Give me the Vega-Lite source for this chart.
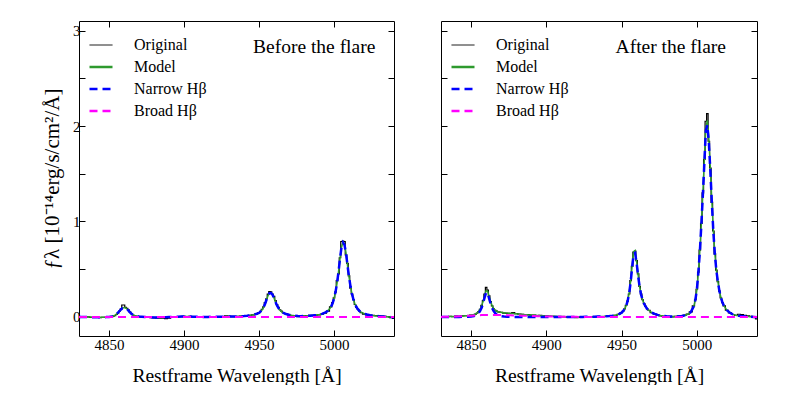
{
  "$schema": "https://vega.github.io/schema/vega-lite/v6.json",
  "background": "white",
  "padding": {"left": 41, "top": 20, "right": 0, "bottom": 0},
  "spacing": 35,
  "datasets": {
    "before": [
      {"w":4830,"o":0,"m":0,"n":0,"b":0},{"w":4832,"o":-0.003,"m":0,"n":0,"b":0},{"w":4834,"o":0.002,"m":0,"n":0,"b":0},{"w":4836,"o":0,"m":0,"n":0,"b":0},{"w":4838,"o":-0.004,"m":-0.002,"n":-0.002,"b":0},{"w":4840,"o":-0.006,"m":-0.003,"n":-0.003,"b":0},{"w":4842,"o":-0.005,"m":-0.003,"n":-0.003,"b":0},{"w":4844,"o":-0.007,"m":-0.003,"n":-0.003,"b":0},{"w":4846,"o":-0.004,"m":-0.003,"n":-0.003,"b":0},{"w":4848,"o":-0.006,"m":-0.002,"n":-0.002,"b":0},{"w":4850,"o":-0.003,"m":0,"n":0,"b":0},
      {"w":4852,"o":0.002,"m":0.005,"n":0.005,"b":0},{"w":4853,"o":0.008,"m":0.01,"n":0.01,"b":0},{"w":4854,"o":0.012,"m":0.018,"n":0.018,"b":0},{"w":4855,"o":0.025,"m":0.03,"n":0.03,"b":0},{"w":4856,"o":0.04,"m":0.045,"n":0.045,"b":0},{"w":4857,"o":0.06,"m":0.062,"n":0.062,"b":0},{"w":4858,"o":0.085,"m":0.078,"n":0.078,"b":0},{"w":4859,"o":0.125,"m":0.092,"n":0.092,"b":0},{"w":4860,"o":0.125,"m":0.098,"n":0.098,"b":0},{"w":4861,"o":0.1,"m":0.095,"n":0.095,"b":0},{"w":4862,"o":0.09,"m":0.083,"n":0.083,"b":0},{"w":4863,"o":0.075,"m":0.066,"n":0.066,"b":0},{"w":4864,"o":0.052,"m":0.048,"n":0.048,"b":0},{"w":4865,"o":0.035,"m":0.033,"n":0.033,"b":0},{"w":4866,"o":0.02,"m":0.022,"n":0.022,"b":0},{"w":4867,"o":0.012,"m":0.014,"n":0.014,"b":0},{"w":4868,"o":0.008,"m":0.009,"n":0.009,"b":0},{"w":4869,"o":0.004,"m":0.006,"n":0.006,"b":0},{"w":4870,"o":0.002,"m":0.004,"n":0.004,"b":0},
      {"w":4872,"o":-0.002,"m":0.002,"n":0.002,"b":0},{"w":4874,"o":-0.004,"m":0,"n":0,"b":0},{"w":4876,"o":-0.006,"m":-0.002,"n":-0.002,"b":0},{"w":4878,"o":-0.008,"m":-0.004,"n":-0.004,"b":0},{"w":4880,"o":-0.01,"m":-0.005,"n":-0.005,"b":0},{"w":4882,"o":-0.012,"m":-0.006,"n":-0.006,"b":0},{"w":4884,"o":-0.014,"m":-0.006,"n":-0.006,"b":0},{"w":4886,"o":-0.012,"m":-0.005,"n":-0.005,"b":0},{"w":4888,"o":-0.018,"m":-0.004,"n":-0.004,"b":0},{"w":4890,"o":-0.012,"m":-0.002,"n":-0.002,"b":0},{"w":4892,"o":-0.004,"m":0,"n":0,"b":0},{"w":4894,"o":0,"m":0.001,"n":0.001,"b":0},{"w":4896,"o":0.002,"m":0.002,"n":0.002,"b":0},{"w":4898,"o":0.004,"m":0.003,"n":0.003,"b":0},{"w":4900,"o":0.005,"m":0.003,"n":0.003,"b":0},{"w":4902,"o":0.004,"m":0.003,"n":0.003,"b":0},{"w":4904,"o":0.006,"m":0.003,"n":0.003,"b":0},{"w":4906,"o":0.003,"m":0.002,"n":0.002,"b":0},{"w":4908,"o":0.001,"m":0.001,"n":0.001,"b":0},{"w":4910,"o":0,"m":0,"n":0,"b":0},{"w":4912,"o":-0.002,"m":0,"n":0,"b":0},{"w":4914,"o":0,"m":0,"n":0,"b":0},{"w":4916,"o":-0.001,"m":0,"n":0,"b":0},{"w":4918,"o":0.001,"m":0.001,"n":0.001,"b":0},{"w":4920,"o":0,"m":0.001,"n":0.001,"b":0},{"w":4922,"o":0.002,"m":0.001,"n":0.001,"b":0},{"w":4924,"o":0.003,"m":0.002,"n":0.002,"b":0},{"w":4926,"o":0.004,"m":0.002,"n":0.002,"b":0},{"w":4928,"o":0.012,"m":0.003,"n":0.003,"b":0},{"w":4930,"o":0.008,"m":0.003,"n":0.003,"b":0},{"w":4932,"o":0.004,"m":0.004,"n":0.004,"b":0},{"w":4934,"o":0.002,"m":0.004,"n":0.004,"b":0},{"w":4936,"o":0.006,"m":0.005,"n":0.005,"b":0},{"w":4938,"o":0.008,"m":0.007,"n":0.007,"b":0},{"w":4940,"o":0.01,"m":0.009,"n":0.009,"b":0},{"w":4942,"o":0.012,"m":0.012,"n":0.012,"b":0},{"w":4944,"o":0.016,"m":0.016,"n":0.016,"b":0},{"w":4946,"o":0.022,"m":0.022,"n":0.022,"b":0},{"w":4948,"o":0.03,"m":0.03,"n":0.03,"b":0},
      {"w":4950,"o":0.045,"m":0.042,"n":0.042,"b":0},{"w":4951,"o":0.058,"m":0.055,"n":0.055,"b":0},{"w":4952,"o":0.08,"m":0.072,"n":0.072,"b":0},{"w":4953,"o":0.105,"m":0.098,"n":0.098,"b":0},{"w":4954,"o":0.15,"m":0.135,"n":0.135,"b":0},{"w":4955,"o":0.19,"m":0.18,"n":0.18,"b":0},{"w":4956,"o":0.24,"m":0.222,"n":0.222,"b":0},{"w":4957,"o":0.265,"m":0.248,"n":0.248,"b":0},{"w":4958,"o":0.262,"m":0.25,"n":0.25,"b":0},{"w":4959,"o":0.24,"m":0.232,"n":0.232,"b":0},{"w":4960,"o":0.215,"m":0.198,"n":0.198,"b":0},{"w":4961,"o":0.17,"m":0.158,"n":0.158,"b":0},{"w":4962,"o":0.13,"m":0.12,"n":0.12,"b":0},{"w":4963,"o":0.1,"m":0.092,"n":0.092,"b":0},{"w":4964,"o":0.075,"m":0.07,"n":0.07,"b":0},{"w":4965,"o":0.06,"m":0.055,"n":0.055,"b":0},{"w":4966,"o":0.045,"m":0.044,"n":0.044,"b":0},{"w":4967,"o":0.038,"m":0.036,"n":0.036,"b":0},{"w":4968,"o":0.03,"m":0.03,"n":0.03,"b":0},
      {"w":4970,"o":0.02,"m":0.022,"n":0.022,"b":0},{"w":4972,"o":0.012,"m":0.016,"n":0.016,"b":0},{"w":4974,"o":0.008,"m":0.012,"n":0.012,"b":0},{"w":4976,"o":0.004,"m":0.009,"n":0.009,"b":0},{"w":4978,"o":0.006,"m":0.008,"n":0.008,"b":0},{"w":4980,"o":0.01,"m":0.009,"n":0.009,"b":0},{"w":4982,"o":0.014,"m":0.011,"n":0.011,"b":0},{"w":4984,"o":0.016,"m":0.013,"n":0.013,"b":0},{"w":4986,"o":0.016,"m":0.016,"n":0.016,"b":0},{"w":4988,"o":0.018,"m":0.019,"n":0.019,"b":0},{"w":4990,"o":0.022,"m":0.024,"n":0.024,"b":0},{"w":4992,"o":0.03,"m":0.032,"n":0.032,"b":0},{"w":4994,"o":0.04,"m":0.044,"n":0.044,"b":0},{"w":4996,"o":0.06,"m":0.065,"n":0.065,"b":0},
      {"w":4998,"o":0.105,"m":0.105,"n":0.105,"b":0},{"w":4999,"o":0.15,"m":0.14,"n":0.14,"b":0},{"w":5000,"o":0.2,"m":0.19,"n":0.19,"b":0},{"w":5001,"o":0.26,"m":0.26,"n":0.26,"b":0},{"w":5002,"o":0.38,"m":0.35,"n":0.35,"b":0},{"w":5003,"o":0.45,"m":0.47,"n":0.47,"b":0},{"w":5004,"o":0.62,"m":0.61,"n":0.61,"b":0},{"w":5005,"o":0.79,"m":0.73,"n":0.73,"b":0},{"w":5006,"o":0.795,"m":0.785,"n":0.78,"b":0},{"w":5007,"o":0.79,"m":0.76,"n":0.755,"b":0},{"w":5008,"o":0.65,"m":0.67,"n":0.67,"b":0},{"w":5009,"o":0.56,"m":0.54,"n":0.54,"b":0},{"w":5010,"o":0.43,"m":0.42,"n":0.42,"b":0},{"w":5011,"o":0.3,"m":0.32,"n":0.32,"b":0},{"w":5012,"o":0.24,"m":0.24,"n":0.24,"b":0},{"w":5013,"o":0.18,"m":0.18,"n":0.18,"b":0},{"w":5014,"o":0.13,"m":0.135,"n":0.135,"b":0},{"w":5015,"o":0.1,"m":0.102,"n":0.102,"b":0},{"w":5016,"o":0.08,"m":0.078,"n":0.078,"b":0},{"w":5017,"o":0.06,"m":0.062,"n":0.062,"b":0},{"w":5018,"o":0.045,"m":0.05,"n":0.05,"b":0},
      {"w":5020,"o":0.03,"m":0.035,"n":0.035,"b":0},{"w":5022,"o":0.022,"m":0.025,"n":0.025,"b":0},{"w":5024,"o":0.018,"m":0.018,"n":0.018,"b":0},{"w":5026,"o":0.016,"m":0.013,"n":0.013,"b":0},{"w":5028,"o":0.014,"m":0.01,"n":0.01,"b":0},{"w":5030,"o":0.01,"m":0.007,"n":0.007,"b":0},{"w":5032,"o":0.008,"m":0.005,"n":0.005,"b":0},{"w":5034,"o":0.006,"m":0.003,"n":0.003,"b":0},{"w":5036,"o":0.002,"m":0.001,"n":0.001,"b":0},{"w":5038,"o":-0.008,"m":-0.002,"n":-0.002,"b":0},{"w":5040,"o":-0.015,"m":-0.004,"n":-0.004,"b":0}
    ],
    "after": [
      {"w":4830,"o":0,"m":0,"n":0,"b":0},{"w":4832,"o":0.004,"m":0.001,"n":0,"b":0.001},{"w":4834,"o":0.002,"m":0.002,"n":0,"b":0.002},{"w":4836,"o":0.006,"m":0.003,"n":0,"b":0.003},{"w":4838,"o":0.004,"m":0.004,"n":0,"b":0.004},{"w":4840,"o":0.008,"m":0.005,"n":0,"b":0.005},{"w":4842,"o":0.005,"m":0.007,"n":0,"b":0.007},{"w":4844,"o":0.01,"m":0.009,"n":0.001,"b":0.008},{"w":4846,"o":0.012,"m":0.011,"n":0.001,"b":0.01},{"w":4848,"o":0.012,"m":0.014,"n":0.002,"b":0.012},{"w":4850,"o":0.018,"m":0.018,"n":0.004,"b":0.013},
      {"w":4852,"o":0.02,"m":0.025,"n":0.01,"b":0.015},{"w":4853,"o":0.03,"m":0.032,"n":0.016,"b":0.016},{"w":4854,"o":0.04,"m":0.042,"n":0.025,"b":0.017},{"w":4855,"o":0.055,"m":0.058,"n":0.04,"b":0.018},{"w":4856,"o":0.08,"m":0.08,"n":0.062,"b":0.018},{"w":4857,"o":0.12,"m":0.115,"n":0.096,"b":0.019},{"w":4858,"o":0.17,"m":0.165,"n":0.145,"b":0.019},{"w":4859,"o":0.24,"m":0.225,"n":0.205,"b":0.02},{"w":4860,"o":0.31,"m":0.275,"n":0.255,"b":0.02},{"w":4861,"o":0.28,"m":0.27,"n":0.25,"b":0.02},{"w":4862,"o":0.22,"m":0.215,"n":0.192,"b":0.02},{"w":4863,"o":0.16,"m":0.16,"n":0.135,"b":0.02},{"w":4864,"o":0.115,"m":0.118,"n":0.09,"b":0.02},{"w":4865,"o":0.085,"m":0.088,"n":0.06,"b":0.02},{"w":4866,"o":0.07,"m":0.07,"n":0.04,"b":0.02},{"w":4867,"o":0.06,"m":0.06,"n":0.027,"b":0.02},{"w":4868,"o":0.052,"m":0.054,"n":0.018,"b":0.02},{"w":4869,"o":0.05,"m":0.05,"n":0.012,"b":0.02},{"w":4870,"o":0.048,"m":0.047,"n":0.008,"b":0.02},
      {"w":4872,"o":0.04,"m":0.043,"n":0.004,"b":0.019},{"w":4874,"o":0.038,"m":0.04,"n":0.002,"b":0.018},{"w":4876,"o":0.036,"m":0.037,"n":0.001,"b":0.017},{"w":4878,"o":0.045,"m":0.035,"n":0,"b":0.016},{"w":4880,"o":0.035,"m":0.032,"n":0,"b":0.015},{"w":4882,"o":0.03,"m":0.029,"n":0,"b":0.014},{"w":4884,"o":0.026,"m":0.026,"n":0,"b":0.013},{"w":4886,"o":0.022,"m":0.023,"n":0,"b":0.012},{"w":4888,"o":0.024,"m":0.021,"n":0,"b":0.011},{"w":4890,"o":0.018,"m":0.019,"n":0,"b":0.01},{"w":4892,"o":0.02,"m":0.017,"n":0,"b":0.009},{"w":4894,"o":0.014,"m":0.015,"n":0,"b":0.008},{"w":4896,"o":0.016,"m":0.013,"n":0,"b":0.007},{"w":4898,"o":0.012,"m":0.011,"n":0,"b":0.006},{"w":4900,"o":0.01,"m":0.01,"n":0,"b":0.005},{"w":4902,"o":0.008,"m":0.008,"n":0,"b":0.004},{"w":4904,"o":0.006,"m":0.007,"n":0,"b":0.004},{"w":4906,"o":0.004,"m":0.006,"n":0,"b":0.003},{"w":4908,"o":0.004,"m":0.005,"n":0,"b":0.003},{"w":4910,"o":0.002,"m":0.004,"n":0,"b":0.002},{"w":4912,"o":0,"m":0.003,"n":0,"b":0.002},{"w":4914,"o":-0.002,"m":0.002,"n":0,"b":0.001},{"w":4916,"o":-0.004,"m":0.002,"n":0,"b":0.001},{"w":4918,"o":-0.006,"m":0.001,"n":0,"b":0.001},{"w":4920,"o":-0.008,"m":0.001,"n":0,"b":0.001},{"w":4922,"o":-0.004,"m":0.001,"n":0,"b":0},{"w":4924,"o":-0.002,"m":0.001,"n":0,"b":0},{"w":4926,"o":0,"m":0.001,"n":0.001,"b":0},{"w":4928,"o":-0.002,"m":0.001,"n":0.001,"b":0},{"w":4930,"o":0.002,"m":0.002,"n":0.002,"b":0},{"w":4932,"o":0,"m":0.002,"n":0.002,"b":0},{"w":4934,"o":0.002,"m":0.003,"n":0.003,"b":0},{"w":4936,"o":0.004,"m":0.004,"n":0.004,"b":0},{"w":4938,"o":0.002,"m":0.005,"n":0.005,"b":0},{"w":4940,"o":0.006,"m":0.007,"n":0.007,"b":0},{"w":4942,"o":0.008,"m":0.009,"n":0.009,"b":0},{"w":4944,"o":0.014,"m":0.013,"n":0.013,"b":0},{"w":4946,"o":0.016,"m":0.018,"n":0.018,"b":0},{"w":4948,"o":0.028,"m":0.028,"n":0.028,"b":0},
      {"w":4950,"o":0.045,"m":0.045,"n":0.045,"b":0},{"w":4951,"o":0.06,"m":0.06,"n":0.06,"b":0},{"w":4952,"o":0.085,"m":0.082,"n":0.082,"b":0},{"w":4953,"o":0.12,"m":0.115,"n":0.115,"b":0},{"w":4954,"o":0.165,"m":0.165,"n":0.165,"b":0},{"w":4955,"o":0.24,"m":0.245,"n":0.24,"b":0},{"w":4956,"o":0.38,"m":0.37,"n":0.36,"b":0},{"w":4957,"o":0.53,"m":0.53,"n":0.515,"b":0},{"w":4958,"o":0.68,"m":0.68,"n":0.66,"b":0},{"w":4959,"o":0.69,"m":0.695,"n":0.67,"b":0},{"w":4960,"o":0.59,"m":0.58,"n":0.565,"b":0},{"w":4961,"o":0.45,"m":0.44,"n":0.43,"b":0},{"w":4962,"o":0.32,"m":0.32,"n":0.315,"b":0},{"w":4963,"o":0.24,"m":0.235,"n":0.232,"b":0},{"w":4964,"o":0.18,"m":0.178,"n":0.176,"b":0},{"w":4965,"o":0.14,"m":0.138,"n":0.137,"b":0},{"w":4966,"o":0.11,"m":0.108,"n":0.107,"b":0},{"w":4967,"o":0.085,"m":0.086,"n":0.085,"b":0},{"w":4968,"o":0.07,"m":0.069,"n":0.069,"b":0},
      {"w":4970,"o":0.045,"m":0.046,"n":0.046,"b":0},{"w":4972,"o":0.03,"m":0.031,"n":0.031,"b":0},{"w":4974,"o":0.018,"m":0.021,"n":0.021,"b":0},{"w":4976,"o":0.01,"m":0.014,"n":0.014,"b":0},{"w":4978,"o":0.006,"m":0.009,"n":0.009,"b":0},{"w":4980,"o":0.002,"m":0.006,"n":0.006,"b":0},{"w":4982,"o":-0.002,"m":0.004,"n":0.004,"b":0},{"w":4984,"o":0,"m":0.004,"n":0.004,"b":0},{"w":4986,"o":0.006,"m":0.005,"n":0.005,"b":0},{"w":4988,"o":0.01,"m":0.007,"n":0.007,"b":0},{"w":4990,"o":0.008,"m":0.01,"n":0.01,"b":0},{"w":4992,"o":0.018,"m":0.016,"n":0.016,"b":0},{"w":4994,"o":0.03,"m":0.028,"n":0.028,"b":0},{"w":4996,"o":0.052,"m":0.05,"n":0.05,"b":0},
      {"w":4998,"o":0.115,"m":0.11,"n":0.11,"b":0},{"w":4999,"o":0.18,"m":0.175,"n":0.175,"b":0},{"w":5000,"o":0.29,"m":0.28,"n":0.28,"b":0},{"w":5001,"o":0.47,"m":0.46,"n":0.455,"b":0},{"w":5002,"o":0.7,"m":0.69,"n":0.68,"b":0},{"w":5003,"o":0.98,"m":0.97,"n":0.96,"b":0},{"w":5004,"o":1.3,"m":1.29,"n":1.27,"b":0},{"w":5005,"o":1.65,"m":1.64,"n":1.61,"b":0},{"w":5006,"o":2.05,"m":1.98,"n":1.95,"b":0},{"w":5007,"o":2.13,"m":2.06,"n":2.01,"b":0},{"w":5008,"o":1.84,"m":1.86,"n":1.83,"b":0},{"w":5009,"o":1.56,"m":1.55,"n":1.53,"b":0},{"w":5010,"o":1.2,"m":1.21,"n":1.195,"b":0},{"w":5011,"o":0.9,"m":0.9,"n":0.89,"b":0},{"w":5012,"o":0.66,"m":0.66,"n":0.655,"b":0},{"w":5013,"o":0.49,"m":0.49,"n":0.485,"b":0},{"w":5014,"o":0.37,"m":0.37,"n":0.368,"b":0},{"w":5015,"o":0.27,"m":0.275,"n":0.273,"b":0},{"w":5016,"o":0.2,"m":0.205,"n":0.204,"b":0},{"w":5017,"o":0.15,"m":0.155,"n":0.154,"b":0},{"w":5018,"o":0.115,"m":0.118,"n":0.117,"b":0},
      {"w":5020,"o":0.07,"m":0.07,"n":0.07,"b":0},{"w":5022,"o":0.042,"m":0.043,"n":0.043,"b":0},{"w":5024,"o":0.025,"m":0.027,"n":0.027,"b":0},{"w":5026,"o":0.016,"m":0.017,"n":0.017,"b":0},{"w":5028,"o":0.028,"m":0.011,"n":0.011,"b":0},{"w":5030,"o":0.024,"m":0.008,"n":0.008,"b":0},{"w":5032,"o":0.016,"m":0.006,"n":0.006,"b":0},{"w":5034,"o":0.012,"m":0.004,"n":0.004,"b":0},{"w":5036,"o":0.006,"m":0.002,"n":0.002,"b":0},{"w":5038,"o":-0.004,"m":0,"n":0,"b":0},{"w":5040,"o":-0.02,"m":-0.004,"n":-0.004,"b":0}
    ]
  },
  "hconcat": [
    {
      "width": 315,
      "height": 315,
      "data": {"name": "before"},
      "resolve": {"axis": {"x": "independent", "y": "independent"}},
      "layer": [
        {
          "mark": {"type": "line", "interpolate": "step", "strokeWidth": 1.2},
          "encoding": {
            "x": {"field": "w", "type": "quantitative", "scale": {"domain": [4830, 5040], "nice": false, "zero": false},
              "axis": {"orient": "bottom", "values": [4850, 4900, 4950, 5000], "format": "d", "title": "Restframe Wavelength [Å]", "labelPadding": 7, "titlePadding": 14}},
            "y": {"field": "o", "type": "quantitative", "scale": {"domain": [-0.2, 3.1], "nice": false, "zero": false},
              "axis": {"orient": "left", "values": [0, 0.5, 1, 1.5, 2, 2.5, 3], "labelExpr": "datum.value % 1 === 0 ? format(datum.value, 'd') : ''", "title": "ƒλ [10⁻¹⁴erg/s/cm²/Å]", "labelPadding": 5, "titlePadding": 10, "titleFontSize": 21}},
            "color": {"datum": "Original", "type": "nominal",
              "scale": {"domain": ["Original", "Model", "Narrow Hβ", "Broad Hβ"], "range": ["#000000", "#2e9a2e", "#0000ff", "#ff00ff"]},
              "legend": {"orient": "none", "legendX": 14, "legendY": 16, "title": null, "symbolType": "stroke", "symbolSize": 529, "labelFont": "Liberation Serif", "labelFontSize": 16, "labelColor": "black", "labelOffset": 25, "rowPadding": 6, "padding": 0,
                "symbolStrokeWidth": 2, "encode": {"symbols": {"update": {"strokeWidth": {"signal": "datum.value === 'Original' ? 1 : 2.5"}}}}}},
            "strokeDash": {"datum": "Original", "type": "nominal",
              "scale": {"domain": ["Original", "Model", "Narrow Hβ", "Broad Hβ"], "range": [[1, 0], [1, 0], [8, 5], [8, 5]]},
              "legend": {"orient": "none", "legendX": 14, "legendY": 16, "title": null, "symbolType": "stroke", "symbolSize": 529, "labelFont": "Liberation Serif", "labelFontSize": 16, "labelColor": "black", "labelOffset": 25, "rowPadding": 6, "padding": 0, "symbolStrokeWidth": 2}}
          }
        },
        {
          "mark": {"type": "line", "strokeWidth": 1.5},
          "encoding": {
            "x": {"field": "w", "type": "quantitative", "axis": {"orient": "top", "values": [4850, 4900, 4950, 5000], "labels": false, "title": null}},
            "y": {"field": "m", "type": "quantitative", "axis": {"orient": "right", "values": [0, 0.5, 1, 1.5, 2, 2.5, 3], "labels": false, "title": null}},
            "color": {"datum": "Model", "type": "nominal"},
            "strokeDash": {"datum": "Model", "type": "nominal"}
          }
        },
        {
          "mark": {"type": "line", "strokeWidth": 2.5},
          "encoding": {
            "x": {"field": "w", "type": "quantitative", "axis": null},
            "y": {"field": "n", "type": "quantitative", "axis": null},
            "color": {"datum": "Narrow Hβ", "type": "nominal"},
            "strokeDash": {"datum": "Narrow Hβ", "type": "nominal"}
          }
        },
        {
          "mark": {"type": "line", "strokeWidth": 2},
          "encoding": {
            "x": {"field": "w", "type": "quantitative", "axis": null},
            "y": {"field": "b", "type": "quantitative", "axis": null},
            "color": {"datum": "Broad Hβ", "type": "nominal"},
            "strokeDash": {"datum": "Broad Hβ", "type": "nominal"}
          }
        },
        {
          "data": {"values": [{}]},
          "mark": {"type": "text", "align": "left", "baseline": "middle", "font": "Liberation Serif", "fontSize": 19.5, "color": "black"},
          "encoding": {
            "x": {"datum": 4946, "type": "quantitative", "axis": null},
            "y": {"datum": 2.83, "type": "quantitative", "axis": null},
            "text": {"value": "Before the flare"}
          }
        }
      ]
    },
    {
      "width": 316,
      "height": 315,
      "data": {"name": "after"},
      "resolve": {"axis": {"x": "independent", "y": "independent"}},
      "layer": [
        {
          "mark": {"type": "line", "interpolate": "step", "strokeWidth": 1.2},
          "encoding": {
            "x": {"field": "w", "type": "quantitative", "scale": {"domain": [4830, 5040], "nice": false, "zero": false},
              "axis": {"orient": "bottom", "values": [4850, 4900, 4950, 5000], "format": "d", "title": "Restframe Wavelength [Å]", "labelPadding": 7, "titlePadding": 14}},
            "y": {"field": "o", "type": "quantitative", "scale": {"domain": [-0.2, 3.1], "nice": false, "zero": false},
              "axis": {"orient": "left", "values": [0, 0.5, 1, 1.5, 2, 2.5, 3], "labels": false, "title": null}},
            "color": {"datum": "Original", "type": "nominal",
              "scale": {"domain": ["Original", "Model", "Narrow Hβ", "Broad Hβ"], "range": ["#000000", "#2e9a2e", "#0000ff", "#ff00ff"]},
              "legend": {"orient": "none", "legendX": 14, "legendY": 16, "title": null, "symbolType": "stroke", "symbolSize": 529, "labelFont": "Liberation Serif", "labelFontSize": 16, "labelColor": "black", "labelOffset": 25, "rowPadding": 6, "padding": 0,
                "symbolStrokeWidth": 2, "encode": {"symbols": {"update": {"strokeWidth": {"signal": "datum.value === 'Original' ? 1 : 2.5"}}}}}},
            "strokeDash": {"datum": "Original", "type": "nominal",
              "scale": {"domain": ["Original", "Model", "Narrow Hβ", "Broad Hβ"], "range": [[1, 0], [1, 0], [8, 5], [8, 5]]},
              "legend": {"orient": "none", "legendX": 14, "legendY": 16, "title": null, "symbolType": "stroke", "symbolSize": 529, "labelFont": "Liberation Serif", "labelFontSize": 16, "labelColor": "black", "labelOffset": 25, "rowPadding": 6, "padding": 0, "symbolStrokeWidth": 2}}
          }
        },
        {
          "mark": {"type": "line", "strokeWidth": 1.5},
          "encoding": {
            "x": {"field": "w", "type": "quantitative", "axis": {"orient": "top", "values": [4850, 4900, 4950, 5000], "labels": false, "title": null}},
            "y": {"field": "m", "type": "quantitative", "axis": {"orient": "right", "values": [0, 0.5, 1, 1.5, 2, 2.5, 3], "labels": false, "title": null}},
            "color": {"datum": "Model", "type": "nominal"},
            "strokeDash": {"datum": "Model", "type": "nominal"}
          }
        },
        {
          "mark": {"type": "line", "strokeWidth": 2.5},
          "encoding": {
            "x": {"field": "w", "type": "quantitative", "axis": null},
            "y": {"field": "n", "type": "quantitative", "axis": null},
            "color": {"datum": "Narrow Hβ", "type": "nominal"},
            "strokeDash": {"datum": "Narrow Hβ", "type": "nominal"}
          }
        },
        {
          "mark": {"type": "line", "strokeWidth": 2},
          "encoding": {
            "x": {"field": "w", "type": "quantitative", "axis": null},
            "y": {"field": "b", "type": "quantitative", "axis": null},
            "color": {"datum": "Broad Hβ", "type": "nominal"},
            "strokeDash": {"datum": "Broad Hβ", "type": "nominal"}
          }
        },
        {
          "data": {"values": [{}]},
          "mark": {"type": "text", "align": "left", "baseline": "middle", "font": "Liberation Serif", "fontSize": 19.5, "color": "black"},
          "encoding": {
            "x": {"datum": 4946, "type": "quantitative", "axis": null},
            "y": {"datum": 2.83, "type": "quantitative", "axis": null},
            "text": {"value": "After the flare"}
          }
        }
      ]
    }
  ],
  "resolve": {
    "scale": {"color": "independent", "strokeDash": "independent"},
    "legend": {"color": "independent", "strokeDash": "independent"}
  },
  "config": {
    "font": "Liberation Serif",
    "view": {"stroke": "black", "strokeWidth": 1},
    "axis": {
      "domain": false, "grid": false, "ticks": true, "tickColor": "black", "tickWidth": 1, "tickSize": -6,
      "labelColor": "black", "labelFont": "Liberation Serif", "labelFontSize": 15,
      "titleColor": "black", "titleFont": "Liberation Serif", "titleFontSize": 19.5, "titleFontWeight": "normal",
      "minExtent": 0
    }
  }
}
